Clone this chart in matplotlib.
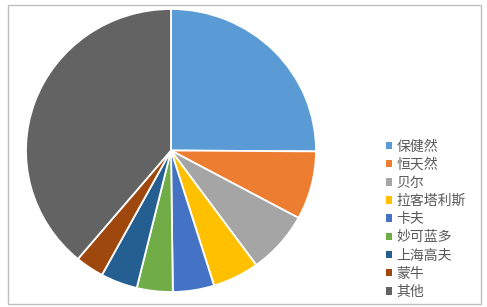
import matplotlib
matplotlib.use("Agg")
import matplotlib.pyplot as plt
from matplotlib.patches import Rectangle

plt.rcParams["font.family"] = ["Noto Sans CJK SC", "DejaVu Sans"]

brands = ["保健然", "恒天然", "贝尔", "拉客塔利斯", "卡夫", "妙可蓝多", "上海高夫", "蒙牛", "其他"]
shares = [25.1, 7.8, 7.1, 5.2, 4.6, 4.0, 4.1, 3.2, 38.9]
colors = ["#5B9BD5", "#ED7D31", "#A5A5A5", "#FFC000", "#4472C4",
          "#70AD47", "#255E91", "#9E480E", "#636363"]

fig = plt.figure(figsize=(4.87, 3.07), dpi=100)
fig.patch.set_facecolor("white")

# outer chart frame
fig.add_artist(Rectangle((7.5 / 487, 3 / 307), 473 / 487, 299 / 307,
                         transform=fig.transFigure, fill=False,
                         edgecolor="#BFBFBF", linewidth=1.0))

# pie box: x 26..316, y 9..292 (pixels from top-left)
ax = fig.add_axes([26 / 487, 15 / 307, 290 / 487, 283 / 307])
wedges, _ = ax.pie(shares, colors=colors, startangle=90, counterclock=False,
                   radius=1.0,
                   wedgeprops=dict(edgecolor="white", linewidth=1.3))
ax.set_aspect("auto")
ax.set_xlim(-1.0, 1.0)
ax.set_ylim(-1.0, 1.0)

leg = fig.legend(wedges, brands, loc="upper left",
                 bbox_to_anchor=(386 / 487, 1 - 139.5 / 307),
                 frameon=False, fontsize=10,
                 handlelength=0.45, handleheight=0.45, handletextpad=0.3,
                 labelspacing=0.3, borderaxespad=0, borderpad=0)
for text in leg.get_texts():
    text.set_color("#595959")
for handle in leg.legend_handles:
    handle.set_edgecolor("none")

fig.savefig("out.png", dpi=100)
